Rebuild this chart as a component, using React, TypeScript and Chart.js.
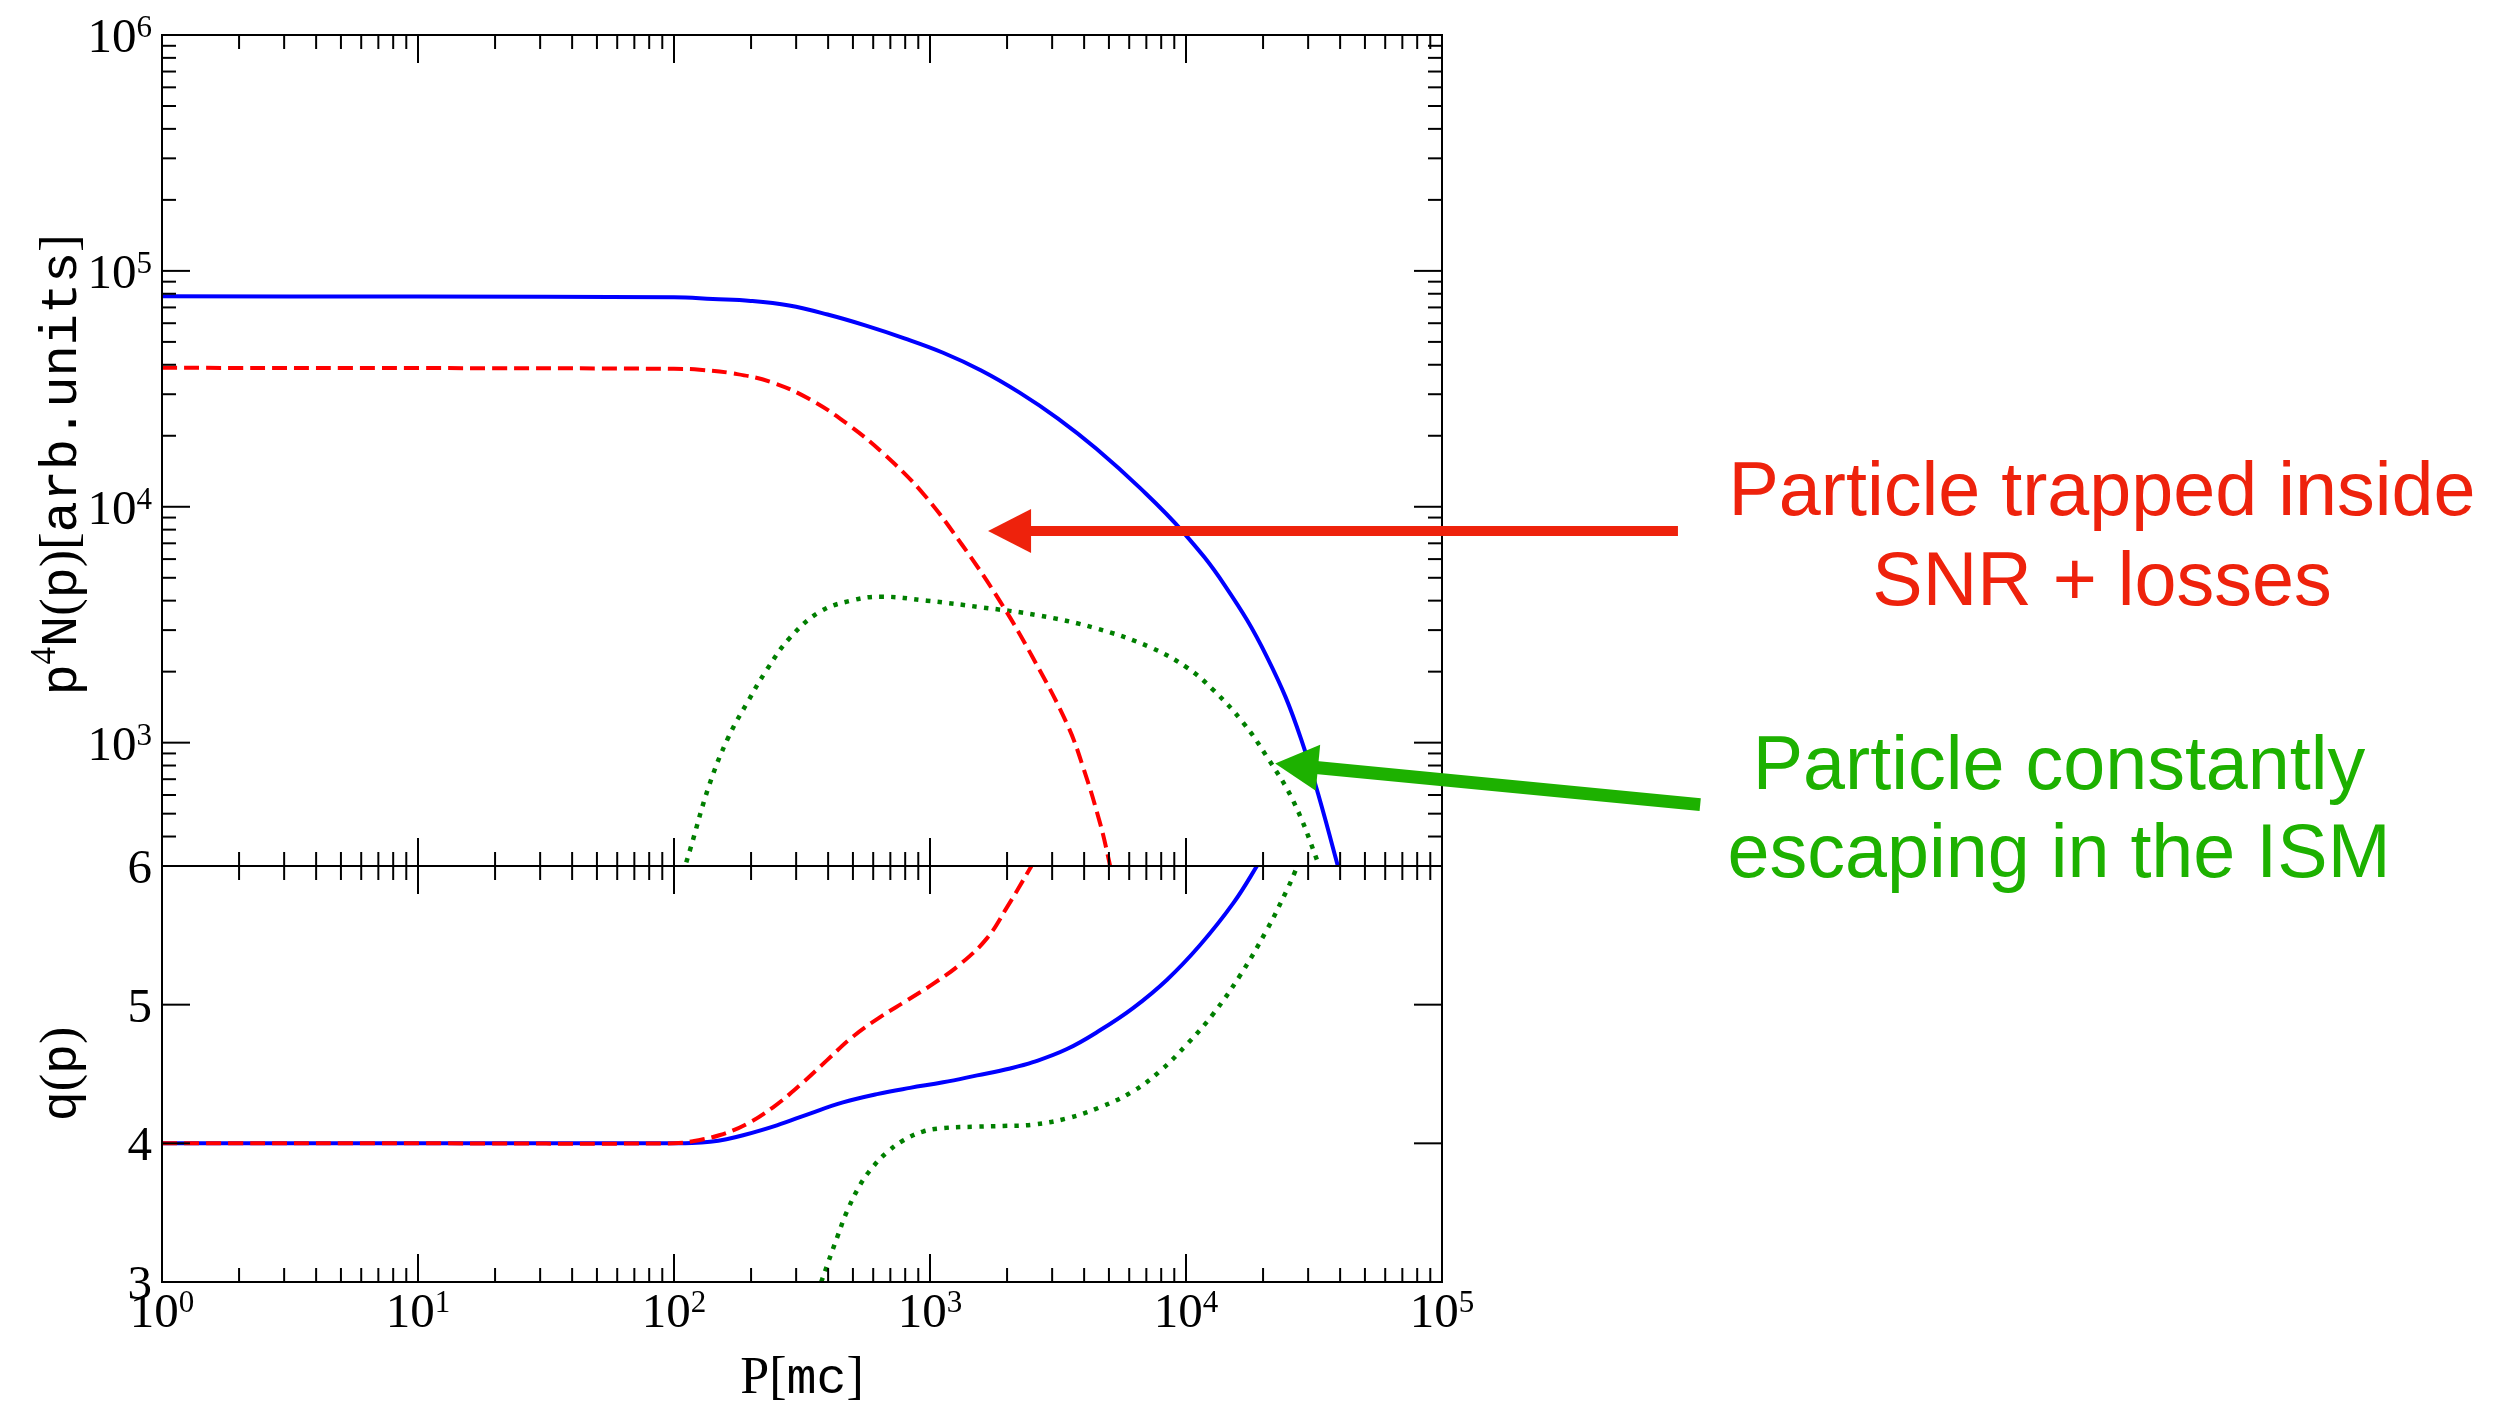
import React, { useEffect, useRef } from 'react';
import { Chart, registerables } from 'chart.js';
Chart.register(...registerables);

// ---------------- data ----------------
// top panel: p^4 N(p)
const blueTopP = [1, 10, 100, 141.9, 199.5, 281.8, 398.1, 562.3, 794.3, 1125, 1585, 2239, 3162, 4467, 6607, 9727, 14125, 20701, 28184, 39264, 44668];
const blueTopN = [78000, 77800, 77300, 76000, 74600, 71300, 65300, 58600, 51760, 44980, 37840, 30480, 23660, 17620, 12020, 7830, 4667, 2312, 1033, 297.8, 165.6];

const redTopP = [1, 10, 100, 125.9, 168.7, 237.1, 336.5, 474.2, 666.8, 948.4, 1334, 1875, 2523, 3428, 3981, 4613, 4955, 5248];
const redTopN = [38815, 38726, 38459, 38107, 36813, 33884, 28708, 22491, 16596, 11246, 6902, 3981, 2291, 1202, 776, 457, 331, 245];

const greenTopP = [105, 115.6, 137.1, 162.6, 194.5, 230.7, 283.8, 371.5, 490.9, 644.2, 972.7, 1581, 2642, 4446, 7228, 10093, 12735, 16711, 20701, 26182, 32810, 34674];
const greenTopN = [250, 352, 658, 1047, 1496, 2042, 2786, 3589, 4000, 4159, 4000, 3750, 3467, 3055, 2541, 2080, 1679, 1216, 871, 569, 309, 251];

// bottom panel: q(p)
const blueBotP = [1, 10, 100, 117.5, 138.4, 160.3, 186.2, 252.3, 339.6, 457.1, 620.9, 835.6, 1125, 1528, 2056, 2523, 3428, 4613, 6209, 8433, 11350, 15276, 18923, 20893];
const blueBotQ = [4.0, 4.0, 4.0, 4.002, 4.012, 4.03, 4.058, 4.13, 4.215, 4.295, 4.355, 4.40, 4.44, 4.49, 4.54, 4.585, 4.68, 4.815, 4.975, 5.18, 5.43, 5.73, 6.0, 6.14];

const redBotP = [1, 10, 100, 118.6, 151.4, 192.8, 243.8, 310.5, 396.3, 500, 638.3, 812.8, 1028, 1309, 1671, 1995, 2455, 2630];
const redBotQ = [4.0, 4.0, 4.0, 4.015, 4.06, 4.14, 4.26, 4.42, 4.60, 4.77, 4.91, 5.03, 5.15, 5.29, 5.48, 5.70, 5.98, 6.08];

const greenBotP = [363.1, 396.3, 433.5, 474.2, 533.3, 598.4, 679.2, 785.2, 939.7, 1125, 1528, 1928, 2523, 3428, 4613, 6209, 7907, 10093, 12735, 16255, 20701, 24831, 26669, 28184];
const greenBotQ = [2.92, 3.12, 3.32, 3.51, 3.70, 3.83, 3.935, 4.02, 4.085, 4.11, 4.12, 4.125, 4.135, 4.18, 4.26, 4.375, 4.52, 4.715, 4.93, 5.21, 5.54, 5.83, 5.96, 6.07];

// ticks
const xMajor = [1, 10, 100, 1000, 10000, 100000];
const xExp = ['0', '1', '2', '3', '4', '5'];
const yTopMajor = [1e3, 1e4, 1e5, 1e6];
const yTopExp = ['3', '4', '5', '6'];
const yBotMajor = [3, 4, 5, 6];
const yBotLabels = ['3', '4', '5', '6'];

// annotations (data coordinates of the top panel)
const redArrowFrom = { p: 8.35e5, n: 7900 };
const redArrowTo = { p: 1686, n: 7900 };
const greenArrowFrom = { p: 1.02e6, n: 546 };
const greenArrowTo = { p: 22300, n: 815 };
const redText = ['Particle trapped inside', 'SNR + losses'];
const greenText = ['Particle constantly', 'escaping in the ISM'];

// ---------------- layout / style ----------------
const W = 2510, H = 1406;
const PL = 162, PR = 1442, PT = 35, PM = 866, PB = 1282;
const MAJ = 28, MIN = 14;
const SERIF = '"Liberation Serif", "DejaVu Serif", serif';
const MONO = '"Liberation Mono", "DejaVu Sans Mono", monospace';
const SANS = '"Liberation Sans", Arial, sans-serif';
const BASE_FS = 49, SUP_FS = 31, SUP_RAISE = 15;
const RED_A = '#EE220C', GREEN_A = '#1DB100';

const pts = (xs: number[], ys: number[]) => xs.map((x, i) => ({ x, y: ys[i] }));

function minors(lo: number, hi: number) {
  const out: number[] = [];
  for (let d = Math.floor(Math.log10(lo)) - 1; d <= Math.ceil(Math.log10(hi)); d++) {
    for (let k = 2; k <= 9; k++) {
      const v = k * Math.pow(10, d);
      if (v > lo * 1.0001 && v < hi * 0.9999) out.push(v);
    }
  }
  return out;
}

function seg(ctx: any, x1: number, y1: number, x2: number, y2: number) {
  ctx.beginPath();
  ctx.moveTo(x1, y1);
  ctx.lineTo(x2, y2);
  ctx.stroke();
}

function powLabel(ctx: any, exp: string, x: number, baseline: number, align: string) {
  ctx.font = `${BASE_FS}px ${SERIF}`;
  const wb = ctx.measureText('10').width;
  ctx.font = `${SUP_FS}px ${SERIF}`;
  const we = ctx.measureText(exp).width;
  const total = wb + we;
  const x0 = align === 'right' ? x - total : x - total / 2;
  ctx.textAlign = 'left';
  ctx.textBaseline = 'alphabetic';
  ctx.font = `${BASE_FS}px ${SERIF}`;
  ctx.fillText('10', x0, baseline);
  ctx.font = `${SUP_FS}px ${SERIF}`;
  ctx.fillText(exp, x0 + wb, baseline - SUP_RAISE);
}

function richText(ctx: any, parts: any[], cx: number, baseline: number) {
  let total = 0;
  const ws = parts.map((p) => {
    ctx.font = p.f;
    const w = ctx.measureText(p.t).width;
    total += w;
    return w;
  });
  let x = cx - total / 2;
  ctx.textAlign = 'left';
  ctx.textBaseline = 'alphabetic';
  parts.forEach((p, i) => {
    ctx.font = p.f;
    ctx.fillText(p.t, x, baseline - (p.dy || 0));
    x += ws[i];
  });
}

function arrow(ctx: any, x1: number, y1: number, x2: number, y2: number, sw: number, hl: number, hw: number, color: string) {
  const dx = x2 - x1, dy = y2 - y1, L = Math.hypot(dx, dy);
  const ux = dx / L, uy = dy / L, nx = -uy, ny = ux;
  const bx = x2 - ux * hl, by = y2 - uy * hl;
  ctx.strokeStyle = color;
  ctx.lineWidth = sw;
  ctx.lineCap = 'butt';
  seg(ctx, x1, y1, bx + ux * 2, by + uy * 2);
  ctx.fillStyle = color;
  ctx.beginPath();
  ctx.moveTo(x2, y2);
  ctx.lineTo(bx + nx * hw, by + ny * hw);
  ctx.lineTo(bx - nx * hw, by - ny * hw);
  ctx.closePath();
  ctx.fill();
}

function drawFrameAndTicks(chart: any, yMajor: number[], yMinor: number[]) {
  const { ctx, chartArea: a, scales } = chart;
  const xs = scales.x, ys = scales.y;
  ctx.save();
  ctx.strokeStyle = '#000';
  ctx.lineWidth = 2;
  ctx.lineCap = 'butt';
  ctx.strokeRect(a.left, a.top, a.right - a.left, a.bottom - a.top);
  const xMin = minors(1, 1e5);
  xMajor.forEach((v) => {
    const px = xs.getPixelForValue(v);
    seg(ctx, px, a.top, px, a.top + MAJ);
    seg(ctx, px, a.bottom, px, a.bottom - MAJ);
  });
  xMin.forEach((v) => {
    const px = xs.getPixelForValue(v);
    seg(ctx, px, a.top, px, a.top + MIN);
    seg(ctx, px, a.bottom, px, a.bottom - MIN);
  });
  yMajor.forEach((v) => {
    const py = ys.getPixelForValue(v);
    seg(ctx, a.left, py, a.left + MAJ, py);
    seg(ctx, a.right, py, a.right - MAJ, py);
  });
  yMinor.forEach((v) => {
    const py = ys.getPixelForValue(v);
    seg(ctx, a.left, py, a.left + MIN, py);
    seg(ctx, a.right, py, a.right - MIN, py);
  });
  ctx.restore();
}

const topPlugin = {
  id: 'topDecor',
  afterDraw(chart: any) {
    const { ctx, scales } = chart;
    const xs = scales.x, ys = scales.y;
    drawFrameAndTicks(chart, yTopMajor, minors(300, 1e6));
    ctx.save();
    ctx.fillStyle = '#000';
    yTopMajor.forEach((v, i) => {
      const py = ys.getPixelForValue(v);
      powLabel(ctx, yTopExp[i], PL - 10, py + 17, 'right');
    });
    // y title
    ctx.save();
    ctx.translate(76, 465);
    ctx.rotate(-Math.PI / 2);
    const mono = `52px ${MONO}`, rom = `52px ${SERIF}`, sup = `35px ${SERIF}`;
    richText(ctx, [
      { t: 'p', f: mono }, { t: '4', f: sup, dy: 21 }, { t: 'N', f: mono }, { t: '(', f: rom },
      { t: 'p', f: mono }, { t: ')', f: rom }, { t: '[', f: rom }, { t: 'arb.units', f: mono }, { t: ']', f: rom },
    ], 0, 0);
    ctx.restore();
    // arrows
    arrow(ctx, xs.getPixelForValue(redArrowFrom.p), ys.getPixelForValue(redArrowFrom.n),
      xs.getPixelForValue(redArrowTo.p), ys.getPixelForValue(redArrowTo.n), 10, 43, 22, RED_A);
    arrow(ctx, xs.getPixelForValue(greenArrowFrom.p), ys.getPixelForValue(greenArrowFrom.n),
      xs.getPixelForValue(greenArrowTo.p), ys.getPixelForValue(greenArrowTo.n), 13, 43, 23, GREEN_A);
    // texts
    ctx.font = `75.5px ${SANS}`;
    ctx.textAlign = 'center';
    ctx.textBaseline = 'alphabetic';
    ctx.fillStyle = RED_A;
    ctx.fillText(redText[0], 2102, 515);
    ctx.fillText(redText[1], 2102, 605);
    ctx.fillStyle = GREEN_A;
    ctx.fillText(greenText[0], 2059, 789);
    ctx.fillText(greenText[1], 2059, 877);
    ctx.restore();
  },
};

const botPlugin = {
  id: 'botDecor',
  afterDraw(chart: any) {
    const { ctx, scales } = chart;
    const xs = scales.x, ys = scales.y;
    drawFrameAndTicks(chart, yBotMajor, []);
    ctx.save();
    ctx.fillStyle = '#000';
    xMajor.forEach((v, i) => {
      powLabel(ctx, xExp[i], xs.getPixelForValue(v), PB + 45, 'center');
    });
    yBotMajor.forEach((v, i) => {
      const py = ys.getPixelForValue(v);
      ctx.font = `${BASE_FS}px ${SERIF}`;
      ctx.textAlign = 'right';
      ctx.textBaseline = 'alphabetic';
      ctx.fillText(yBotLabels[i], PL - 10, py + 17);
    });
    const mono = `50px ${MONO}`, rom = `52px ${SERIF}`;
    richText(ctx, [{ t: 'P', f: rom }, { t: '[', f: rom }, { t: 'mc', f: mono }, { t: ']', f: rom }], (PL + PR) / 2, 1393);
    ctx.save();
    ctx.translate(76, (PM + PB) / 2);
    ctx.rotate(-Math.PI / 2);
    richText(ctx, [{ t: 'q', f: mono }, { t: '(', f: rom }, { t: 'p', f: mono }, { t: ')', f: rom }], 0, 0);
    ctx.restore();
    ctx.restore();
  },
};

const lineDs = (data: any, color: string, dash: number[], width = 4) => ({
  data,
  borderColor: color,
  backgroundColor: color,
  borderWidth: width,
  borderDash: dash,
  pointRadius: 0,
  fill: false,
  tension: 0.4,
  clip: 0,
});

function baseOptions(padding: any, yScale: any) {
  return {
    responsive: false,
    animation: false,
    devicePixelRatio: 1,
    events: [],
    layout: { padding },
    plugins: { legend: { display: false }, tooltip: { enabled: false } },
    scales: {
      x: { type: 'logarithmic', min: 1, max: 1e5, display: false },
      y: { ...yScale, display: false },
    },
  };
}

export default function App() {
  const topRef = useRef<HTMLCanvasElement>(null);
  const botRef = useRef<HTMLCanvasElement>(null);
  useEffect(() => {
    const top = new Chart(topRef.current as any, {
      type: 'line',
      data: {
        datasets: [
          lineDs(pts(redTopP, redTopN), '#FF0000', [15, 7]),
          lineDs(pts(blueTopP, blueTopN), '#0000FF', []),
          lineDs(pts(greenTopP, greenTopN), '#007F00', [4.5, 7.2], 4.5),
        ],
      },
      options: baseOptions({ left: PL, top: PT, right: W - PR, bottom: H - PM }, { type: 'logarithmic', min: 300, max: 1e6 }) as any,
      plugins: [topPlugin],
    });
    const bot = new Chart(botRef.current as any, {
      type: 'line',
      data: {
        datasets: [
          lineDs(pts(redBotP, redBotQ), '#FF0000', [15, 7]),
          lineDs(pts(blueBotP, blueBotQ), '#0000FF', []),
          lineDs(pts(greenBotP, greenBotQ), '#007F00', [4.5, 7.2], 4.5),
        ],
      },
      options: baseOptions({ left: PL, top: PM, right: W - PR, bottom: H - PB }, { type: 'linear', min: 3, max: 6 }) as any,
      plugins: [botPlugin],
    });
    return () => {
      top.destroy();
      bot.destroy();
    };
  }, []);
  const cs: any = { position: 'absolute', left: 0, top: 0, width: W, height: H };
  return (
    <div style={{ position: 'absolute', left: 0, top: 0, width: W, height: H, background: '#fff', overflow: 'hidden' }}>
      <canvas ref={topRef} width={W} height={H} style={cs} />
      <canvas ref={botRef} width={W} height={H} style={cs} />
    </div>
  );
}
